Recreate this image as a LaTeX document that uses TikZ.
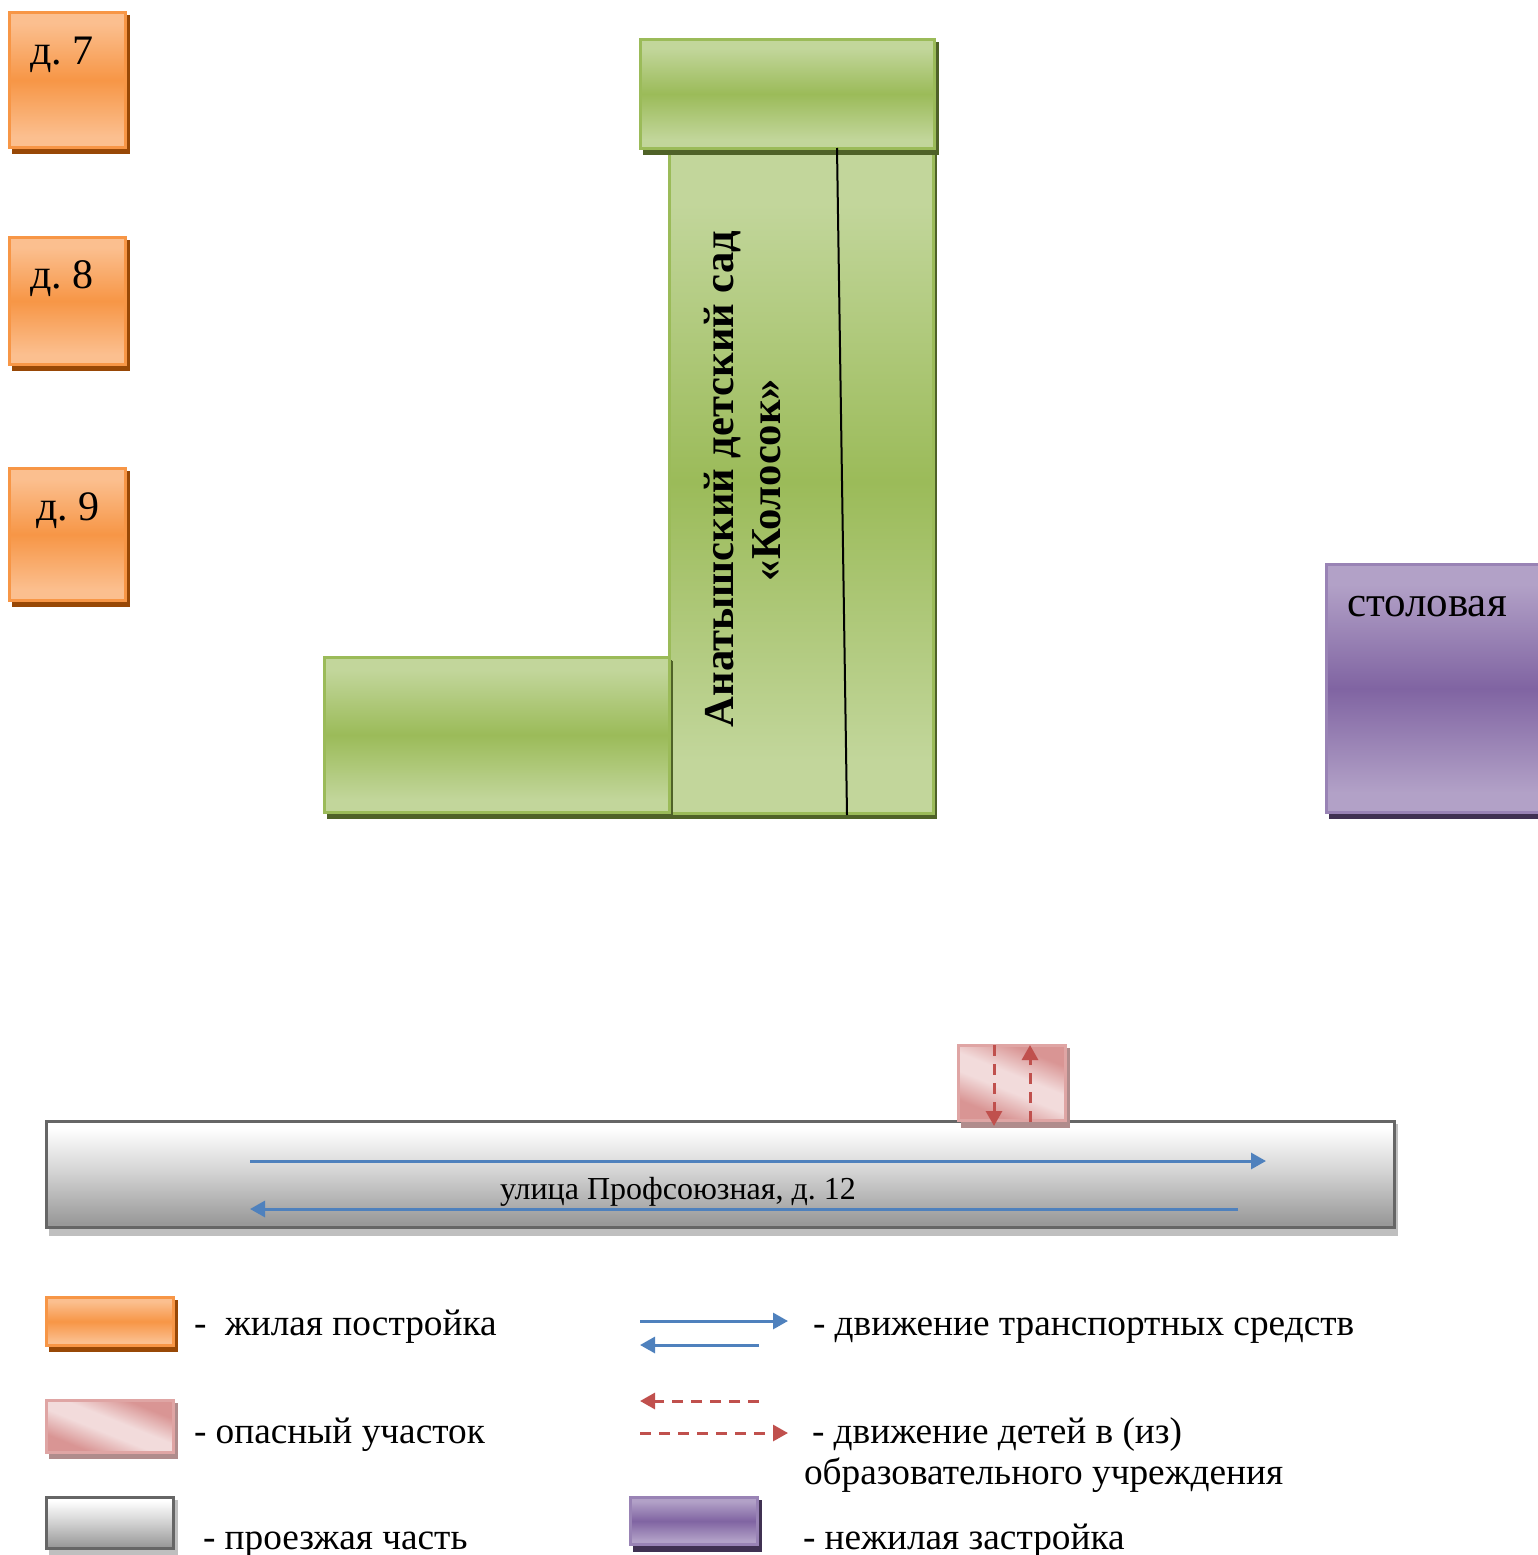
\documentclass[tikz,border=0pt]{standalone}
\usepackage{fontspec}
\setmainfont{Liberation Serif}
\usetikzlibrary{arrows.meta}
\definecolor{orL}{HTML}{FBBF8F}\definecolor{orM}{HTML}{F79646}\definecolor{orS}{HTML}{984806}
\definecolor{grL}{HTML}{C2D69B}\definecolor{grM}{HTML}{9BBB59}\definecolor{grS}{HTML}{4F6228}
\definecolor{puL}{HTML}{B2A1C7}\definecolor{puM}{HTML}{8064A2}\definecolor{puS}{HTML}{403152}
\definecolor{reL}{HTML}{F2DBDB}\definecolor{reM}{HTML}{D99594}\definecolor{reS}{HTML}{B08C8C}
\definecolor{gyT}{HTML}{FFFFFF}\definecolor{gyM}{HTML}{D0D0D0}\definecolor{gyB}{HTML}{999999}\definecolor{gyS}{HTML}{BFBFBF}
\definecolor{blu}{HTML}{4F81BD}\definecolor{rdd}{HTML}{C0504D}
\pgfdeclareverticalshading{orband}{100bp}{color(0bp)=(orL);color(29bp)=(orL);color(50bp)=(orM);color(71bp)=(orL);color(100bp)=(orL)}
\pgfdeclareverticalshading{grband}{100bp}{color(0bp)=(grL);color(29bp)=(grL);color(50bp)=(grM);color(71bp)=(grL);color(100bp)=(grL)}
\pgfdeclareverticalshading{puband}{100bp}{color(0bp)=(puL);color(29bp)=(puL);color(50bp)=(puM);color(71bp)=(puL);color(100bp)=(puL)}
\pgfdeclareverticalshading{gyband}{100bp}{color(0bp)=(gyB);color(27bp)=(gyB);color(50bp)=(gyM);color(72bp)=(gyT);color(100bp)=(gyT)}
\pgfdeclareverticalshading{reband}{100bp}{color(0bp)=(reM);color(29bp)=(reM);color(45bp)=(reL);color(55bp)=(reL);color(71bp)=(reM);color(100bp)=(reM)}
\tikzset{
  orbox/.style={shading=orband,draw=orM,line width=3pt},
  grbox/.style={shading=grband,draw=grM,line width=3pt},
  pubox/.style={shading=puband,draw=puM!80!white,line width=3pt},
  rebox/.style={shading=reband,shading angle=-22,draw=reM!85!white,line width=3pt},
  gybox/.style={shading=gyband,draw=black!60,line width=3pt},
  lbl/.style={anchor=base west,inner sep=0pt,outer sep=0pt},
  big/.style={font=\fontsize{42}{42}\selectfont},
  mid/.style={font=\fontsize{37.3}{37.3}\selectfont},
  sml/.style={font=\fontsize{32}{32}\selectfont},
  vert/.style={font=\fontsize{42.6}{42.6}\selectfont\bfseries,rotate=90,anchor=base,inner sep=0pt},
  bluearrow/.style={draw=blu,line width=3pt,-{Triangle[length=15pt,width=16pt]}},
  redarrow/.style={draw=rdd,line width=3pt,dash pattern=on 11pt off 8pt,-{Triangle[length=15pt,width=16pt]}}
}
% name, x1, y1, x2, y2, style, shadow colour, shadow right, shadow bottom
\newcommand{\bx}[9]{%
  \fill[#7] ({#2+3},{#3+3}) rectangle ({#8+0.5},{#9+0.5});
  \pgfmathsetmacro{\cxx}{(#2+#4)/2-0.5}\pgfmathsetmacro{\cyy}{(#3+#5)/2-0.5}%
  \pgfmathsetmacro{\wdd}{#4-#2-2}\pgfmathsetmacro{\htt}{#5-#3-2}%
  \node[#6,rectangle,minimum width=\wdd pt,minimum height=\htt pt,inner sep=0pt,outer sep=0pt] (#1) at (\cxx,\cyy) {};
}
\begin{document}
\begin{tikzpicture}[x=1pt,y=-1pt]
\useasboundingbox (0,0) rectangle (1537,1555);
% houses
\bx{h7}{9}{12}{127}{149}{orbox}{orS}{129}{153}
\bx{h8}{9}{237}{127}{366}{orbox}{orS}{129}{370}
\bx{h9}{9}{468}{127}{602}{orbox}{orS}{129}{606}
\node[lbl,big] (t7) at (30,65) {д. \kern-3pt 7};
\node[lbl,big] (t8) at (30,288) {д. \kern-3pt 8};
\node[lbl,big] (t9) at (36,520) {д. \kern-3pt 9};
% kindergarten
\bx{kmain}{669}{150}{935}{815}{grbox}{grS}{936}{818}
\bx{ktop}{640}{39}{936}{150}{grbox}{grS}{938}{154}
\bx{kleft}{324}{657}{671}{814}{grbox}{grS}{671}{818}
\coordinate (la) at (672,661); \coordinate (lb) at (672,815);
\draw[grS,line width=1.4pt] (la) -- (lb);
\coordinate (wa) at (837,148); \coordinate (wb) at (847,815);
\draw[black,line width=2pt] (wa) -- (wb);
\node[vert] (ka) at (733,479) {Анатышский детский сад};
\node[vert] (kb) at (780,480) {«Колосок»};
% canteen
\bx{cant}{1326}{564}{1545}{814}{pubox}{puS}{1545}{818}
\node[lbl,font=\fontsize{43}{43}\selectfont] (tc) at (1347,616) {столовая};
% road
\bx{road}{46}{1121}{1396}{1229}{gybox}{gyS}{1397}{1235}
\node[lbl,sml] (tr) at (500,1199) {улица Профсоюзная, д.\kern8pt12};
\coordinate (r1a) at (250,1161); \coordinate (r1b) at (1266,1161);
\coordinate (r2a) at (1238,1209); \coordinate (r2b) at (250,1209);
\draw[bluearrow] (r1a) -- (r1b);
\draw[bluearrow] (r2a) -- (r2b);
% danger zone
\bx{dang}{958}{1045}{1067}{1122}{rebox}{reS}{1069}{1127}
\coordinate (d1a) at (994,1045); \coordinate (d1b) at (994,1126);
\coordinate (d2a) at (1030,1122); \coordinate (d2b) at (1030,1045);
\draw[redarrow] (d1a) -- (d1b);
\draw[redarrow] (d2a) -- (d2b);
% legend boxes
\bx{l1}{46}{1297}{175}{1347}{orbox}{orS}{177}{1351}
\bx{l2}{46}{1400}{175}{1454}{rebox}{reS}{177}{1458}
\bx{l3}{46}{1497}{175}{1550}{gybox}{gyS}{177}{1555}
\bx{l4}{630}{1497}{759}{1546}{pubox}{puS}{761}{1551}
% legend arrows
\coordinate (a1a) at (640,1321); \coordinate (a1b) at (788,1321);
\coordinate (a2a) at (759,1345); \coordinate (a2b) at (640,1345);
\coordinate (a3a) at (759,1401); \coordinate (a3b) at (640,1401);
\coordinate (a4a) at (640,1433); \coordinate (a4b) at (788,1433);
\draw[bluearrow] (a1a) -- (a1b);
\draw[bluearrow] (a2a) -- (a2b);
\draw[redarrow] (a3a) -- (a3b);
\draw[redarrow] (a4a) -- (a4b);
% legend texts
\node[lbl,mid] (x1) at (194,1335) {-\ \ жилая постройка};
\node[lbl,mid] (x2) at (194,1443) {- опасный участок};
\node[lbl,mid] (x3) at (203,1549) {- проезжая часть};
\node[lbl,mid] (x4) at (813,1335) {- движение транспортных средств};
\node[lbl,mid] (x5) at (812,1443) {- движение детей в (из)};
\node[lbl,mid] (x6) at (804,1484) {образовательного учреждения};
\node[lbl,mid] (x7) at (803,1549) {- нежилая застройка};
\end{tikzpicture}
\end{document}
